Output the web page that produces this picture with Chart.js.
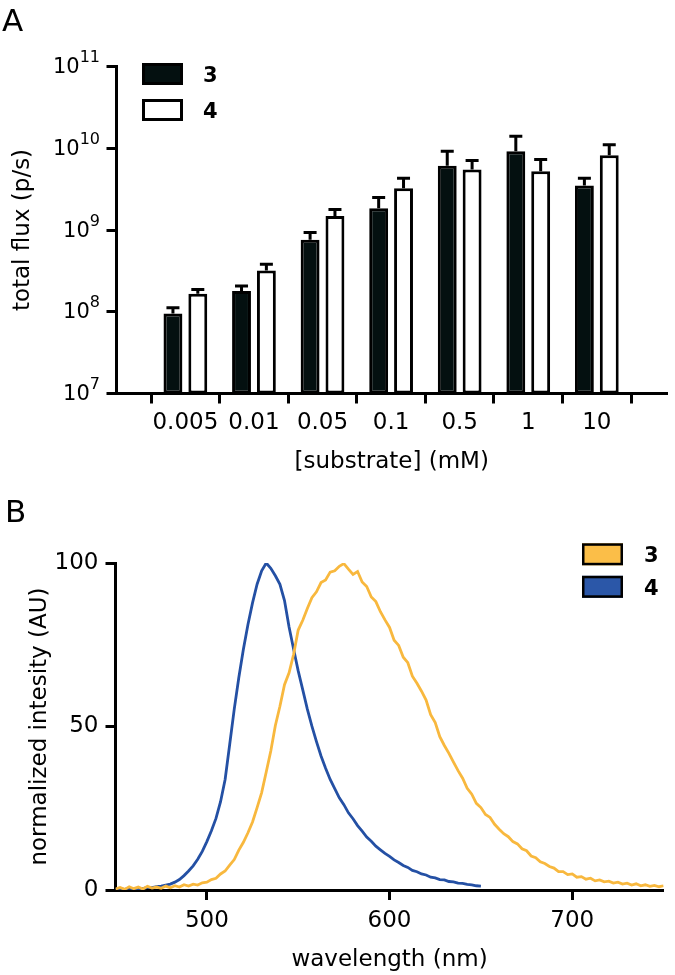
<!DOCTYPE html>
<html>
<head>
<meta charset="utf-8">
<script src="https://cdn.jsdelivr.net/npm/chart.js@4.4.0/dist/chart.umd.min.js"></script>
<style>
  body { margin: 0; background: #fff; }
  canvas { position: absolute; left: 0; }
  #graficoA { top: 0; }
  #graficoB { top: 485px; }
</style>
</head>
<body>
<canvas id="graficoA" width="675" height="485"></canvas>
<canvas id="graficoB" width="675" height="490"></canvas>
<script>
// --- Dados painel A (barras, escala log) ---
const concentracoes = ['0.005', '0.01', '0.05', '0.1', '0.5', '1', '10'];
const fluxo3 = [9.5e7, 1.8e8, 7.6e8, 1.85e9, 6.1e9, 9.2e9, 3.5e9];
const erro3 = [1.12e8, 2.07e8, 9.3e8, 2.5e9, 9.2e9, 1.4e10, 4.3e9];
const fluxo4 = [1.66e8, 3.2e8, 1.48e9, 3.25e9, 5.5e9, 5.25e9, 8.2e9];
const erro4 = [1.87e8, 3.8e8, 1.78e9, 4.3e9, 7.1e9, 7.3e9, 1.1e10];
const ticksFluxo = [1e7, 1e8, 1e9, 1e10, 1e11];

// --- Dados painel B (espectros) ---
const comprimentoOnda = [
  450, 452.5, 455, 457.5, 460, 462.5, 465, 467.5, 470, 472.5,
  475, 477.5, 480, 482.5, 485, 487.5, 490, 492.5, 495, 497.5,
  500, 502.5, 505, 507.5, 510, 512.5, 515, 517.5, 520, 522.5,
  525, 527.5, 530, 532.5, 535, 537.5, 540, 542.5, 545, 547.5,
  550, 552.5, 555, 557.5, 560, 562.5, 565, 567.5, 570, 572.5,
  575, 577.5, 580, 582.5, 585, 587.5, 590, 592.5, 595, 597.5,
  600, 602.5, 605, 607.5, 610, 612.5, 615, 617.5, 620, 622.5,
  625, 627.5, 630, 632.5, 635, 637.5, 640, 642.5, 645, 647.5,
  650, 652.5, 655, 657.5, 660, 662.5, 665, 667.5, 670, 672.5,
  675, 677.5, 680, 682.5, 685, 687.5, 690, 692.5, 695, 697.5,
  700, 702.5, 705, 707.5, 710, 712.5, 715, 717.5, 720, 722.5,
  725, 727.5, 730, 732.5, 735, 737.5, 740, 742.5, 745, 747.5,
  750
];
const intensidade3 = [
  0.3, 0.8, 0.2, 1.0, 0.4, 0.9, 0.3, 1.1, 0.6, 0.9,
  0.5, 1.2, 0.7, 1.3, 0.9, 1.6, 1.2, 1.8, 1.5, 2.2,
  2.4, 3.2, 3.6, 4.9, 5.8, 7.6, 9.3, 12.2, 14.6, 17.5,
  20.8, 25.2, 29.8, 36.1, 42.5, 50.3, 56.2, 62.8, 66.4, 72.1,
  79.5, 82.5, 86.1, 89.4, 91.2, 94.0, 94.8, 97.2, 97.6, 99.0,
  99.8, 98.1, 96.5, 97.4, 94.2, 92.8, 89.6, 88.2, 85.1, 82.6,
  80.3, 76.4, 74.8, 71.2, 69.5, 65.4, 63.2, 60.8, 58.1, 53.6,
  51.2, 46.9, 44.2, 41.8, 39.1, 36.5, 34.2, 31.1, 29.3, 26.5,
  25.2, 23.1, 22.2, 20.1, 18.6, 17.2, 16.3, 14.8, 14.1, 12.6,
  12.0, 10.4, 9.9, 8.6, 8.1, 7.2, 6.7, 5.6, 5.6, 4.7,
  4.9, 3.9, 4.1, 3.3, 3.6, 2.8, 3.1, 2.5, 2.7, 2.1,
  2.4, 1.8, 2.1, 1.5, 1.9, 1.3, 1.6, 1.1, 1.4, 1.0,
  1.3
];
const intensidade4 = [
  0.2, 0.5, 0.1, 0.6, 0.2, 0.5, 0.4, 0.8, 0.7, 1.0,
  1.2, 1.5, 1.8, 2.4, 3.2, 4.4, 5.8, 7.4, 9.4, 11.8,
  14.8, 18.1, 21.9, 27.0, 33.8, 44.5, 55.3, 65.0, 73.6, 81.2,
  87.8, 93.5, 97.6, 100, 98.4, 96.1, 93.5, 88.5, 80.4, 73.6,
  67.0, 61.2, 55.3, 50.1, 45.4, 41.0, 37.2, 33.8, 31.0, 28.2,
  26.1, 23.6, 21.8, 19.7, 18.0, 16.2, 14.9, 13.4, 12.3, 11.2,
  10.3, 9.2, 8.4, 7.5, 6.9, 6.0, 5.6, 4.9, 4.6, 3.9,
  3.7, 3.2, 3.1, 2.6, 2.5, 2.1, 2.0, 1.7, 1.6, 1.3,
  1.2
];
const ticksOnda = [500, 600, 700];
const ticksIntensidade = [0, 50, 100];

const fonte = '"DejaVu Sans", sans-serif';
const fonteEixo = { family: fonte, size: 23 };

// --- Plugins ---
// barra de erro só para cima, com traço no topo
const pluginErro = {
  id: 'erro',
  afterDatasetsDraw(chart) {
    const ctx = chart.ctx;
    const y = chart.scales.y;
    ctx.save();
    ctx.strokeStyle = '#000';
    ctx.lineWidth = 3;
    chart.data.datasets.forEach((ds, i) => {
      chart.getDatasetMeta(i).data.forEach((barra, j) => {
        const topo = y.getPixelForValue(ds.erros[j]);
        ctx.beginPath();
        ctx.moveTo(barra.x, barra.y);
        ctx.lineTo(barra.x, topo);
        ctx.moveTo(barra.x - 6.5, topo);
        ctx.lineTo(barra.x + 6.5, topo);
        ctx.stroke();
      });
    });
    ctx.restore();
  }
};

// rótulos 10^n com expoente sobrescrito
const pluginPotencias = {
  id: 'potencias',
  afterDraw(chart) {
    const ctx = chart.ctx;
    const y = chart.scales.y;
    const direita = y.right - 16.5;
    ctx.save();
    ctx.fillStyle = '#000';
    ctx.textAlign = 'right';
    ctx.textBaseline = 'alphabetic';
    ticksFluxo.forEach(v => {
      const py = y.getPixelForValue(v);
      const exp = String(Math.round(Math.log10(v)));
      ctx.font = '16px ' + fonte;
      ctx.fillText(exp, direita, py - 4.5);
      const w = ctx.measureText(exp).width;
      ctx.font = '21px ' + fonte;
      ctx.fillText('10', direita - w, py + 6.5);
    });
    ctx.restore();
  }
};

// legenda com caixas e letra do painel
const pluginLegenda = {
  id: 'legenda',
  afterDraw(chart, args, op) {
    const ctx = chart.ctx;
    ctx.save();
    ctx.fillStyle = '#000';
    ctx.font = '31px ' + fonte;
    ctx.textAlign = 'left';
    ctx.textBaseline = 'alphabetic';
    ctx.fillText(op.letra, op.letraX, op.letraY);
    chart.data.datasets.forEach((ds, i) => {
      const y = op.y + i * op.passo;
      const b = op.borda;
      ctx.fillStyle = ds.backgroundColor;
      ctx.fillRect(op.x, y, 41, 22);
      ctx.lineWidth = b;
      ctx.strokeStyle = '#000';
      ctx.strokeRect(op.x + b / 2, y + b / 2, 41 - b, 22 - b);
      ctx.fillStyle = '#000';
      ctx.font = 'bold 21px ' + fonte;
      ctx.textBaseline = 'alphabetic';
      ctx.fillText(ds.label, op.textoX, y + 19);
    });
    ctx.restore();
  }
};

function eixo(extra) {
  return Object.assign({
    grid: { drawOnChartArea: false, drawTicks: true, tickLength: 10, tickWidth: 3, tickColor: '#000' },
    border: { display: true, color: '#000', width: 3 }
  }, extra);
}

// --- Painel A ---
new Chart(document.getElementById('graficoA'), {
  type: 'bar',
  data: {
    datasets: [
      {
        label: '3', data: fluxo3.map((v, i) => ({ x: i, y: v })), erros: erro3,
        backgroundColor: '#041010', borderColor: '#000', borderWidth: 3, borderSkipped: false,
        categoryPercentage: 0.725, barPercentage: 0.76
      },
      {
        label: '4', data: fluxo4.map((v, i) => ({ x: i, y: v })), erros: erro4,
        backgroundColor: '#fff', borderColor: '#000', borderWidth: 3, borderSkipped: false,
        categoryPercentage: 0.725, barPercentage: 0.76
      }
    ]
  },
  options: {
    responsive: false,
    animation: false,
    devicePixelRatio: 1,
    layout: { padding: { top: 66.5, right: 8, left: 0, bottom: 0 } },
    plugins: {
      legend: { display: false },
      tooltip: { enabled: false },
      legenda: { letra: 'A', letraX: 2, letraY: 31, x: 142, y: 63, passo: 36, borda: 3, textoX: 203 }
    },
    scales: {
      x: eixo({
        type: 'linear', min: -0.431, max: 6.45,
        afterBuildTicks: s => { s.ticks = concentracoes.map((c, i) => ({ value: i })); },
        ticks: { callback: v => concentracoes[v], font: fonteEixo, color: '#000', padding: 5.5, maxRotation: 0, autoSkip: false },
        title: { display: true, text: '[substrate] (mM)', font: fonteEixo, color: '#000', padding: { top: 0, bottom: 9.5 } },
        afterFit: s => { s.height = 91.5; }
      }),
      y: eixo({
        type: 'logarithmic', min: 1e7, max: 1e11,
        afterBuildTicks: s => { s.ticks = ticksFluxo.map(v => ({ value: v })); },
        ticks: { display: false },
        title: { display: true, text: 'total flux (p/s)', font: fonteEixo, color: '#000', padding: { top: 9.2, bottom: 0 } },
        afterFit: s => { s.width = 116.5; }
      })
    }
  },
  plugins: [pluginErro, pluginPotencias, pluginLegenda]
});

// --- Painel B ---
new Chart(document.getElementById('graficoB'), {
  type: 'line',
  data: {
    datasets: [
      {
        label: '3', data: comprimentoOnda.map((x, i) => ({ x: x, y: intensidade3[i] })),
        borderColor: '#f8b83e', backgroundColor: '#fbbe48', borderWidth: 2.8, pointRadius: 0, tension: 0
      },
      {
        label: '4', data: intensidade4.map((y, i) => ({ x: comprimentoOnda[i], y: y })),
        borderColor: '#2450a4', backgroundColor: '#2b57a8', borderWidth: 2.8, pointRadius: 0, tension: 0
      }
    ]
  },
  options: {
    responsive: false,
    animation: false,
    devicePixelRatio: 1,
    layout: { padding: { top: 78, right: 11.4, left: 0, bottom: 0 } },
    plugins: {
      legend: { display: false },
      tooltip: { enabled: false },
      legenda: { letra: 'B', letraX: 5, letraY: 37, x: 582, y: 58.3, passo: 32.5, borda: 2.5, textoX: 644 }
    },
    scales: {
      x: eixo({
        type: 'linear', min: 450, max: 750,
        afterBuildTicks: s => { s.ticks = ticksOnda.map(v => ({ value: v })); },
        ticks: { font: fonteEixo, color: '#000', padding: 7, maxRotation: 0 },
        title: { display: true, text: 'wavelength (nm)', font: fonteEixo, color: '#000', padding: { top: 0, bottom: 1.2 } },
        afterFit: s => { s.height = 85; }
      }),
      y: eixo({
        type: 'linear', min: 0, max: 100,
        afterBuildTicks: s => { s.ticks = ticksIntensidade.map(v => ({ value: v })); },
        ticks: { font: fonteEixo, color: '#000', padding: 7 },
        title: { display: true, text: 'normalized intesity (AU)', font: fonteEixo, color: '#000', padding: { top: 26.2, bottom: 0 } },
        afterFit: s => { s.width = 115.5; }
      })
    }
  },
  plugins: [pluginLegenda]
});
</script>
</body>
</html>
